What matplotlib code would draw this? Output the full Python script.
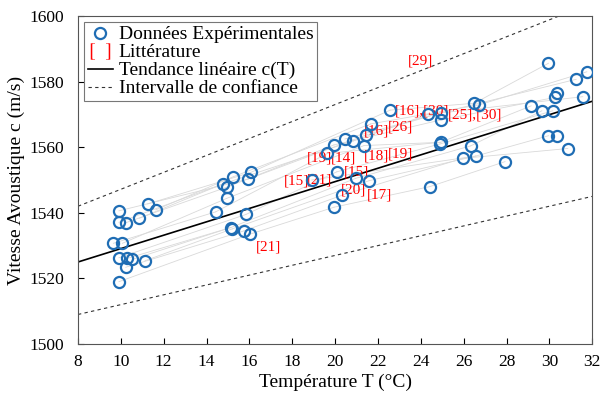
import numpy as np
import matplotlib
matplotlib.use('Agg')
import matplotlib.pyplot as plt
from matplotlib.lines import Line2D

plt.rcParams['font.family'] = ['Liberation Serif', 'DejaVu Serif']
plt.rcParams['mathtext.fontset'] = 'stix'

# experimental points, grouped by temperature cluster
T10 = [9.91, 11.25, 11.63, 9.91, 10.24, 10.85, 9.65, 10.07, 9.91, 10.30, 10.54, 11.13, 10.23, 9.91]
C10 = [1540.6, 1542.7, 1540.9, 1537.1, 1537.0, 1538.3, 1530.7, 1530.7, 1526.3, 1526.1, 1525.8, 1525.4, 1523.4, 1519.0]
T15 = [15.25, 16.06, 15.95, 14.76, 14.94, 14.94, 14.43, 15.84, 15.13, 15.20, 15.75, 16.03]
C15 = [1551.0, 1552.3, 1550.3, 1548.8, 1547.8, 1544.4, 1540.3, 1539.5, 1535.5, 1535.1, 1534.5, 1533.5]
T20 = [22.57, 21.66, 21.43, 21.35, 20.85, 20.46, 19.95, 19.64, 20.08, 18.91, 20.96, 21.59, 20.34, 19.95]
C20 = [1571.3, 1567.1, 1563.7, 1560.5, 1561.9, 1562.5, 1560.7, 1558.1, 1552.5, 1550.0, 1550.5, 1549.8, 1545.4, 1541.7]
T25 = [24.35, 24.93, 24.93, 24.93, 24.90, 26.50, 26.72, 26.33, 26.57, 25.96, 24.43]
C25 = [1570.0, 1570.5, 1568.3, 1561.5, 1561.0, 1573.4, 1572.9, 1560.4, 1557.3, 1556.6, 1548.0]
T30 = [29.96, 31.75, 31.25, 30.38, 30.27, 31.56, 29.15, 29.65, 30.16, 29.96, 30.38, 30.86, 27.93]
C30 = [1585.6, 1583.0, 1580.7, 1576.6, 1575.2, 1575.4, 1572.6, 1571.1, 1571.1, 1563.5, 1563.5, 1559.6, 1555.6]

# linear trend and confidence band (values at T = 8 and T = 32)
t_ends = [8, 32]
trend = [1525.0, 1574.0]
upper = [1542.0, 1604.0]
lower = [1509.0, 1545.0]

# literature references (label, T, c)
ref_labels = ['[29]', '[16],[30]', '[25],[30]', '[16]', '[26]', '[18]', '[19]', '[19]', '[14]',
              '[15]', '[21]', '[15]', '[20]', '[17]', '[21]']
ref_T = [23.97, 24.06, 26.53, 21.93, 23.05, 21.93, 23.05, 19.25, 20.38, 18.18, 19.28, 20.98, 20.85, 22.05, 16.87]
ref_C = [1586.3, 1571.0, 1569.8, 1564.9, 1566.2, 1557.3, 1557.9, 1556.7, 1556.7, 1549.7, 1550.0, 1552.3, 1547.0, 1545.5, 1529.6]

groups = [(T10, C10), (T15, C15), (T20, C20), (T25, C25), (T30, C30)]

fig = plt.figure(figsize=(6, 4), dpi=100)
ax = fig.add_axes([0.13, 0.14, 0.857, 0.82])

# thin grey lines linking points of neighbouring clusters (by rank)
for (ta, ca), (tb, cb) in zip(groups[:-1], groups[1:]):
    ia = np.argsort(ca)
    ib = np.argsort(cb)
    n, m = len(ia), len(ib)
    for r in range(n):
        k = ib[int(round(r * (m - 1) / (n - 1)))]
        j = ia[r]
        ax.plot([ta[j], tb[k]], [ca[j], cb[k]], color='#d9d9d9', lw=0.6, zorder=1)

ax.plot(t_ends, upper, color='#333333', lw=0.8, ls=(0, (3, 3)), zorder=2)
ax.plot(t_ends, lower, color='#333333', lw=0.8, ls=(0, (3, 3)), zorder=2)
ax.plot(t_ends, trend, color='black', lw=1.2, zorder=2)

for lab, t, c in zip(ref_labels, ref_T, ref_C):
    ax.text(t, c, lab, color='red', fontsize=11, ha='center', va='center', zorder=3)

allT = T10 + T15 + T20 + T25 + T30
allC = C10 + C15 + C20 + C25 + C30
ax.plot(allT, allC, ls='none', marker='o', ms=8, mfc='none', mec='#1f6db4', mew=1.6, zorder=4)

ax.set_xlim(8, 32)
ax.set_ylim(1500, 1600)
ax.set_xticks(np.arange(8, 33, 2))
ax.set_yticks(np.arange(1500, 1601, 20))
ax.tick_params(direction='in', length=4, width=0.8, labelsize=12.5, top=False, right=False)
ax.tick_params(axis='x', pad=7)
ax.tick_params(axis='y', pad=10)
for s in ax.spines.values():
    s.set_color('#555555')
    s.set_linewidth(0.8)

ax.set_xlabel('Température T (°C)', fontsize=14, labelpad=3)
ax.set_ylabel('Vitesse Avoustique c (m/s)', fontsize=14, labelpad=3)

handles = [
    Line2D([], [], ls='none', marker='o', ms=8, mfc='none', mec='#1f6db4', mew=1.6),
    Line2D([], [], ls='none', marker=r'$[\ \ ]$', ms=14, color='red', mew=0),
    Line2D([], [], color='black', lw=1.2),
    Line2D([], [], color='#333333', lw=0.8, ls=(0, (3, 3))),
]
names = ['Données Expérimentales', 'Littérature', 'Tendance linéaire c(T)', 'Intervalle de confiance']
leg = ax.legend(handles, names, loc='upper left', fontsize=14, handlelength=1.3,
                handletextpad=0.3, labelspacing=0.02, borderpad=0.2, borderaxespad=0.3,
                fancybox=False, framealpha=1)
leg.get_frame().set_edgecolor('#777777')
leg.get_frame().set_linewidth(0.8)

fig.savefig('out.png', dpi=100)
